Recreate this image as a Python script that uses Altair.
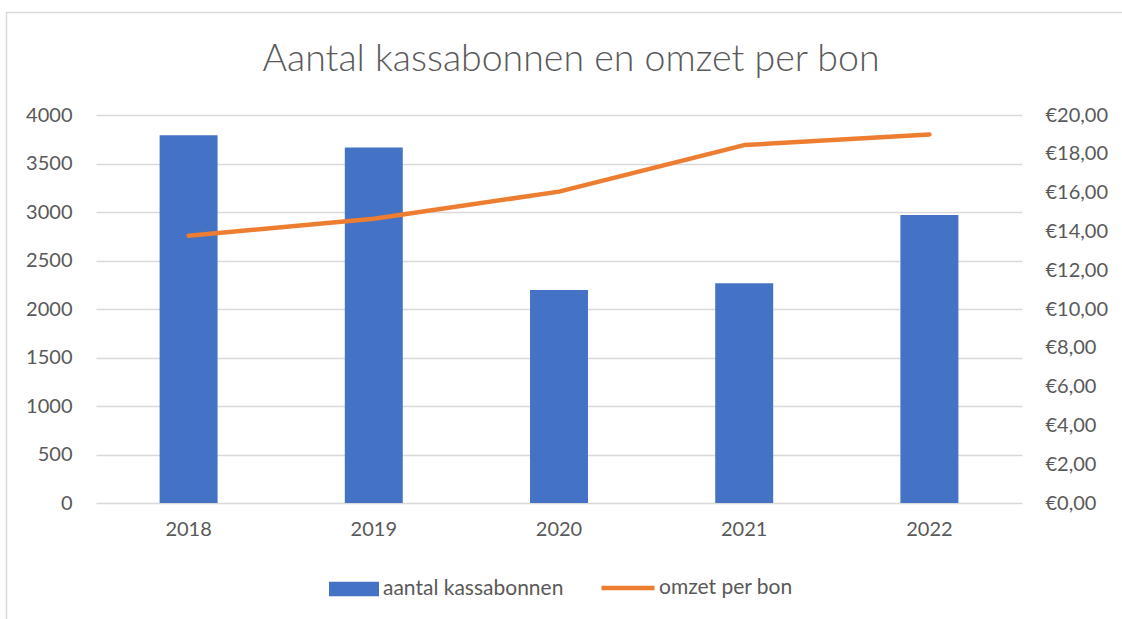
import altair as alt
import pandas as pd

years = ["2018", "2019", "2020", "2021", "2022"]
kassabonnen = [3790, 3665, 2195, 2265, 2970]
omzet_per_bon = [13.78, 14.65, 16.05, 18.45, 19.00]
left_ticks = [0, 500, 1000, 1500, 2000, 2500, 3000, 3500, 4000]
right_ticks = [0, 2, 4, 6, 8, 10, 12, 14, 16, 18, 20]

title_text = "Aantal kassabonnen en omzet per bon"
bar_name = "aantal kassabonnen"
line_name = "omzet per bon"

df = pd.DataFrame({"jaar": years, "bonnen": kassabonnen, "omzet": omzet_per_bon})

FONT = "Lato"
GREY = "#595959"
GRID = "#d9d9d9"

x_enc = alt.X(
    "jaar:N",
    sort=years,
    scale=alt.Scale(paddingInner=0.687, paddingOuter=0.3435),
    axis=alt.Axis(title=None, labelAngle=0, domain=False, ticks=False,
                  labelFontSize=20, labelColor=GREY, labelFont=FONT, labelPadding=16),
)

base = alt.Chart(df)

bars = base.mark_bar().transform_calculate(reeks=f"'{bar_name}'").encode(
    x=x_enc,
    y=alt.Y("bonnen:Q",
            scale=alt.Scale(domain=[0, 4000], nice=False),
            axis=alt.Axis(title=None, values=left_ticks, orient="left", grid=True, format="d",
                          gridColor=GRID, gridWidth=1.3, domain=False, ticks=False,
                          labelFontSize=20, labelColor=GREY, labelFont=FONT, labelPadding=24)),
    color=alt.Color("reeks:N",
                    scale=alt.Scale(domain=[bar_name], range=["#4472C4"]),
                    legend=alt.Legend(title=None, orient="none", legendX=233, legendY=449,
                                      symbolType="M-1,-0.29H1V0.29H-1Z", symbolSize=2500,
                                      symbolStrokeWidth=0, labelFontSize=21, labelColor=GREY,
                                      labelFont=FONT, labelOffset=4, labelLimit=400, padding=0)),
)

line = base.mark_line(strokeWidth=4.5, strokeCap="round", strokeJoin="round").transform_calculate(
    reeks2=f"'{line_name}'").encode(
    x=x_enc,
    y=alt.Y("omzet:Q",
            scale=alt.Scale(domain=[0, 20], nice=False),
            axis=alt.Axis(title=None, values=right_ticks, orient="right", grid=False,
                          domain=False, ticks=False,
                          labelExpr='"€" + replace(format(datum.value, ".2f"), ".", ",")',
                          labelFontSize=20, labelColor=GREY, labelFont=FONT, labelPadding=23)),
    stroke=alt.Stroke("reeks2:N",
                      scale=alt.Scale(domain=[line_name], range=["#ED7D31"]),
                      legend=alt.Legend(title=None, orient="none", legendX=503, legendY=444,
                                        symbolType="stroke", symbolSize=2809,
                                        symbolStrokeWidth=4.5, labelFontSize=21, labelColor=GREY,
                                        labelFont=FONT, labelOffset=2, labelLimit=400, padding=0)),
)

frame = alt.Chart(alt.Data(values=[{}])).mark_rect(
    filled=False, stroke=GRID, strokeWidth=1.5).encode(
    x=alt.value(-89.5), y=alt.value(-102.5), x2=alt.value(1100), y2=alt.value(560))

chart = alt.layer(frame, bars, line).resolve_scale(
    y="independent", color="independent", stroke="independent"
).properties(
    width=926, height=388,
    title=alt.TitleParams(title_text, fontSize=37.5, font=FONT, fontWeight=300, color=GREY,
                          anchor="middle", frame="group", baseline="alphabetic",
                          dx=12, offset=-97),
    autosize=alt.AutoSizeParams(type="none"),
    padding={"left": 96, "top": 115, "right": 100, "bottom": 116},
).configure(background="white").configure_view(stroke=None)

chart.save("out.html", embed_options={"renderer": "svg", "actions": False})
